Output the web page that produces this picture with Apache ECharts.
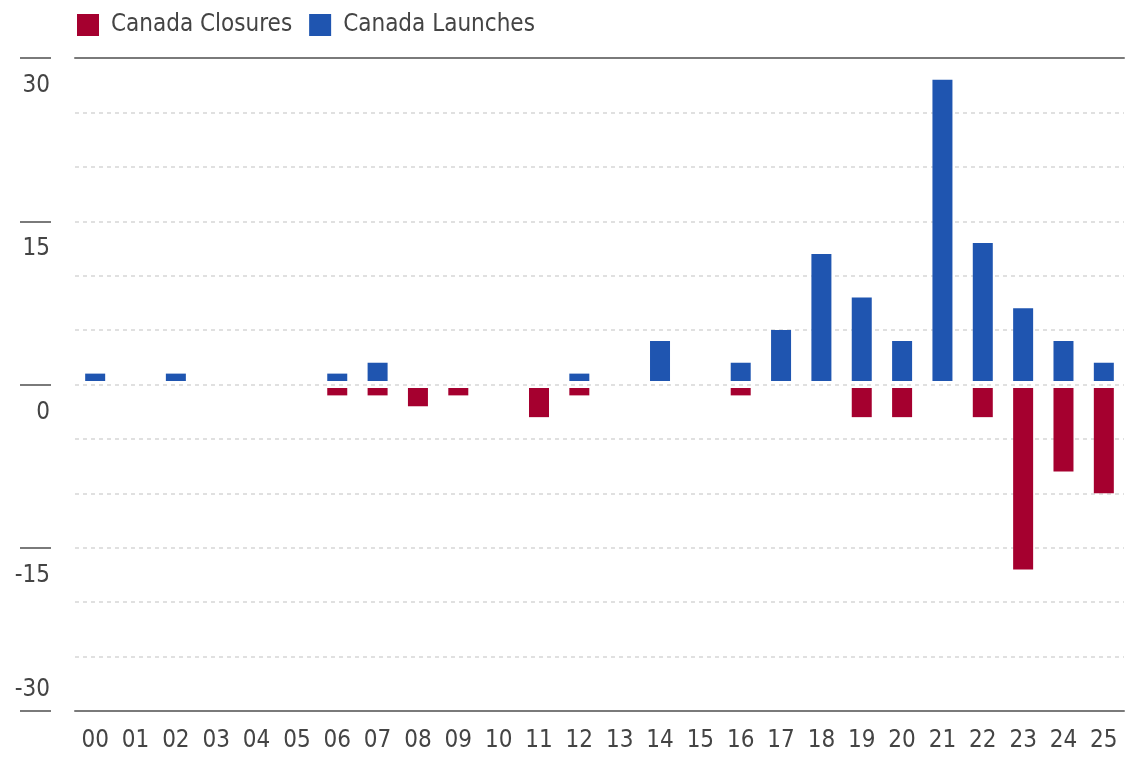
<!DOCTYPE html>
<html>
<head>
<meta charset="utf-8">
<script src="https://cdn.jsdelivr.net/npm/echarts@6/dist/echarts.min.js"></script>
<style>
  html, body { margin: 0; padding: 0; background: #fff; }
  #chart { width: 1133px; height: 758px; }
</style>
</head>
<body>
<div id="chart"></div>
<script>
// Canadian fund launches and closures by year (20xx)
const years = ['00','01','02','03','04','05','06','07','08','09','10','11','12',
               '13','14','15','16','17','18','19','20','21','22','23','24','25'];
const launches = [1,0,1,0,0,0,1,2,0,0,0,0,1,0,4,0,2,5,12,8,4,28,13,7,4,2];
const closures = [0,0,0,0,0,0,-1,-1,-2,-1,0,-3,-1,0,0,0,-1,0,0,-3,-3,0,-3,-17,-8,-10];
const yTicks = [-30, -15, 0, 15, 30];

const FONT = "'Liberation Sans Narrow', 'DejaVu Sans Condensed', 'Roboto', sans-serif";
const FS = 24;
const TEXT = '#444';
const RULE = '#7a7a7a';

const chart = echarts.init(document.getElementById('chart'), null, { renderer: 'canvas' });

const labelAxisBase = {
  type: 'value',
  min: yTicks[0],
  max: yTicks[yTicks.length - 1],
  interval: yTicks[1] - yTicks[0],
  position: 'left',
  offset: 24,
  axisLine: { show: false },
  splitLine: { show: false }
};

chart.setOption({
  animation: false,
  backgroundColor: '#fff',
  textStyle: { fontFamily: FONT },
  legend: {
    left: 72,
    top: 8,
    itemWidth: 22,
    itemHeight: 22,
    itemGap: 17,
    icon: 'rect',
    textStyle: { fontFamily: FONT, fontSize: FS, color: TEXT, padding: [0, 0, 0, 7] },
    data: ['Canada Closures', 'Canada Launches']
  },
  grid: { left: 75, right: 9, top: 58, bottom: 47, containLabel: false },
  xAxis: [
    {
      type: 'category',
      data: years,
      position: 'bottom',
      axisLine: { show: true, onZero: false, lineStyle: { color: RULE, width: 2 } },
      axisTick: { show: false },
      axisLabel: { color: TEXT, fontFamily: FONT, fontSize: FS, margin: 18, interval: 0 },
      splitLine: { show: false }
    },
    {
      type: 'category',
      data: years,
      position: 'top',
      axisLine: { show: true, onZero: false, lineStyle: { color: RULE, width: 2 } },
      axisTick: { show: false },
      axisLabel: { show: false },
      splitLine: { show: false }
    }
  ],
  yAxis: [
    {
      type: 'value',
      min: yTicks[0],
      max: yTicks[yTicks.length - 1],
      interval: 5,
      axisLine: { show: false },
      axisTick: { show: false },
      axisLabel: { show: false },
      splitLine: { show: true, lineStyle: { color: '#d6d6d6', width: 1.5, type: [4, 4] } }
    },
    Object.assign({}, labelAxisBase, {
      axisTick: { show: true, length: 31, lineStyle: { color: RULE, width: 2 } },
      axisLabel: {
        color: TEXT, fontFamily: FONT, fontSize: FS, margin: 1,
        verticalAlign: 'top', padding: [16, 0, 0, 0],
        formatter: v => (v === yTicks[0] ? '' : String(v))
      }
    }),
    Object.assign({}, labelAxisBase, {
      axisTick: { show: false },
      axisLabel: {
        color: TEXT, fontFamily: FONT, fontSize: FS, margin: 1,
        verticalAlign: 'bottom', padding: [0, 0, 9, 0],
        formatter: v => (v === yTicks[0] ? String(v) : '')
      }
    })
  ],
  series: [
    {
      name: 'Canada Closures',
      type: 'bar',
      data: closures,
      barWidth: 20,
      barGap: '-100%',
      itemStyle: { color: '#A5002F' },
      silent: true
    },
    {
      name: 'Canada Launches',
      type: 'bar',
      data: launches,
      barWidth: 20,
      barGap: '-100%',
      itemStyle: { color: '#1F55B0' },
      silent: true,
      // white band separating the bars from the zero line, then the dashed zero rule on top
      markLine: {
        silent: true,
        symbol: 'none',
        label: { show: false },
        z: 5,
        data: [
          { yAxis: 0, lineStyle: { color: '#ffffff', width: 7, type: 'solid' } },
          { yAxis: 0, lineStyle: { color: '#d6d6d6', width: 1.5, type: [4, 4] } }
        ]
      }
    }
  ]
});
</script>
</body>
</html>
